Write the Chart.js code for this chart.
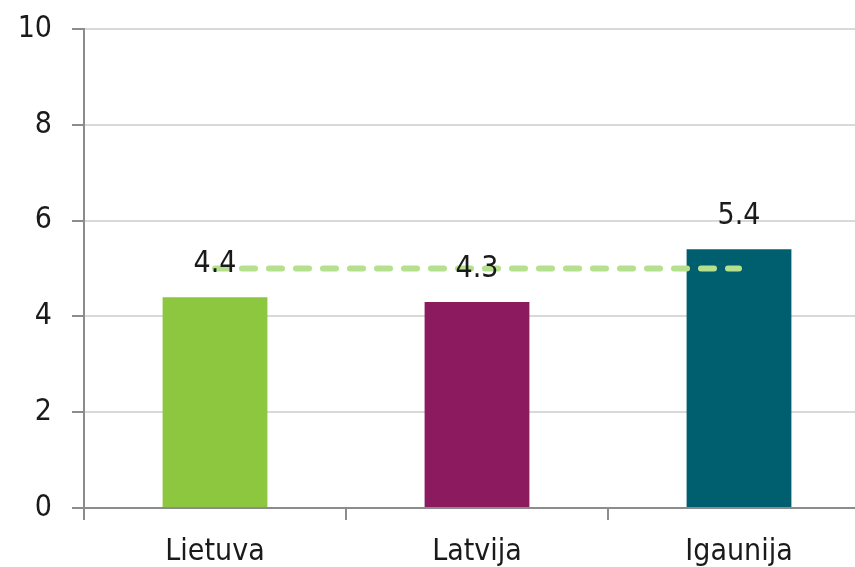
<!DOCTYPE html>
<html>
<head>
<meta charset="utf-8">
<script src="https://cdn.jsdelivr.net/npm/chart.js@4"></script>
<style>
  html, body { margin: 0; padding: 0; background: #fff; overflow: hidden; }
  #wrap { position: absolute; left: 0; top: -9px; width: 870px; height: 576px; }
</style>
</head>
<body>
<div id="wrap"><canvas id="myChart"></canvas></div>
<script>
  const categories = ['Lietuva', 'Latvija', 'Igaunija'];
  const values = [4.4, 4.3, 5.4];
  const average = [5, 5, 5];
  const barColors = ['#8dc63f', '#8b1a5e', '#005f6f'];
  const yTicks = [0, 2, 4, 6, 8, 10];

  const font = '"DejaVu Sans Condensed", "Liberation Sans Narrow", sans-serif';

  /* value labels above bars */
  const valueLabels = {
    id: 'valueLabels',
    afterDatasetsDraw(chart) {
      const ctx = chart.ctx;
      const meta = chart.getDatasetMeta(1);
      ctx.save();
      ctx.font = '30px ' + font;
      ctx.fillStyle = '#1a1a1a';
      ctx.textAlign = 'center';
      ctx.textBaseline = 'middle';
      meta.data.forEach((bar, i) => {
        ctx.fillText(values[i].toFixed(1), bar.x, bar.y - 33);
      });
      ctx.restore();
    }
  };

  const ctx = document.getElementById('myChart').getContext('2d');
  const myChart = new Chart(ctx, {
    type: 'bar',
    data: {
      labels: categories,
      datasets: [{
        type: 'line',
        data: average,
        borderColor: '#b5e08e',
        borderWidth: 6,
        borderDash: [13, 14],
        borderCapStyle: 'round',
        pointRadius: 0,
        order: 0
      }, {
        data: values,
        backgroundColor: barColors,
        barPercentage: 0.4,
        categoryPercentage: 1,
        order: 1
      }]
    },
    options: {
      responsive: true,
      maintainAspectRatio: false,
      animation: false,
      layout: { padding: { top: 20, right: 0, left: 0, bottom: 0 } },
      plugins: {
        legend: { display: false },
        tooltip: { enabled: false }
      },
      scales: {
        x: {
          offset: true,
          grid: {
            offset: true,
            drawOnChartArea: false,
            tickLength: 12,
            color: '#8c8c8c',
            lineWidth: 2
          },
          border: { color: '#8c8c8c', width: 2 },
          ticks: {
            color: '#1a1a1a',
            font: { family: font, size: 30 },
            padding: 14
          },
          afterFit(scale) { scale.height = 59; }
        },
        y: {
          min: 0,
          max: 10,
          afterBuildTicks(scale) {
            scale.ticks = yTicks.map(v => ({ value: v }));
          },
          grid: {
            color: '#d9d9d9',
            lineWidth: 2,
            tickLength: 12,
            tickColor: '#8c8c8c'
          },
          border: { color: '#8c8c8c', width: 2 },
          ticks: {
            color: '#1a1a1a',
            font: { family: font, size: 30 },
            padding: 20
          },
          afterFit(scale) { scale.width = 84; }
        }
      }
    },
    plugins: [valueLabels]
  });
</script>
</body>
</html>
